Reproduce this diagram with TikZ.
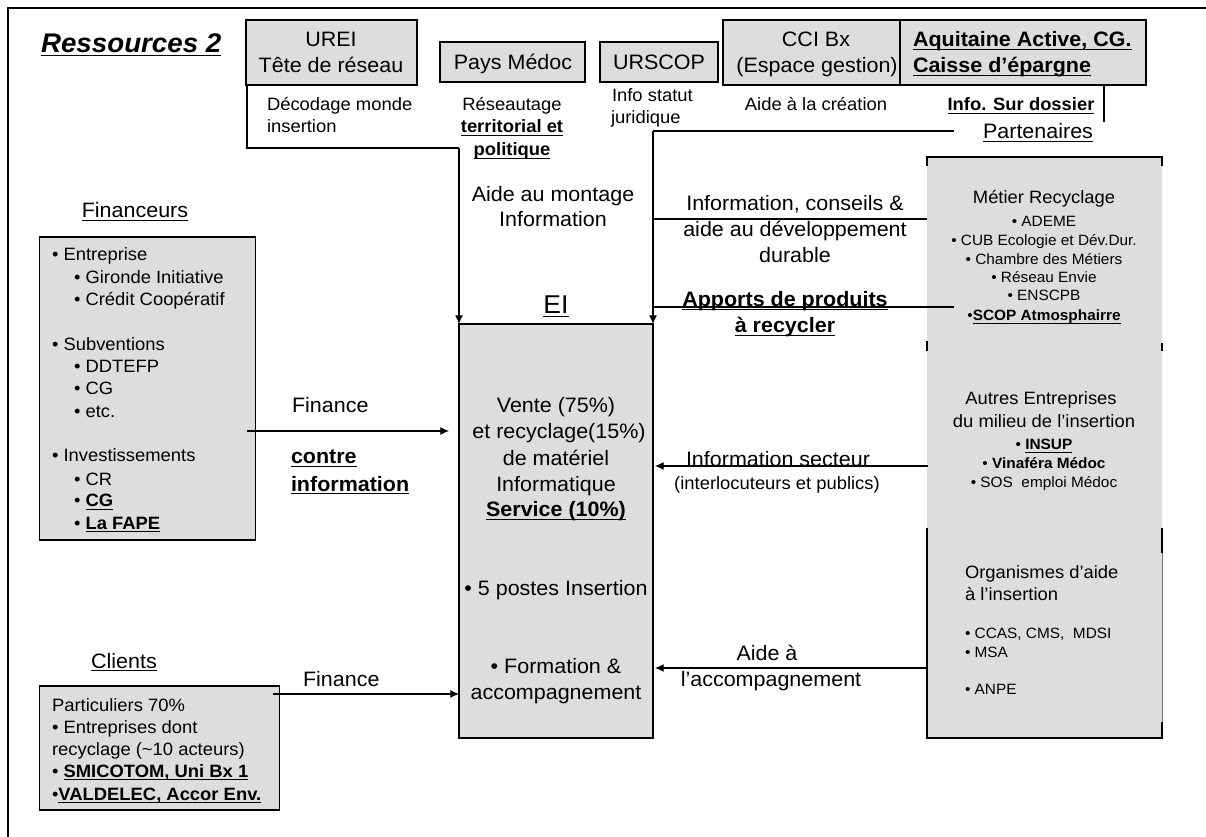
\documentclass[tikz,border=0pt]{standalone}
\usepackage{fontspec}
\usetikzlibrary{arrows.meta}
\setmainfont[FakeStretch=1.03]{Liberation Sans}
\newsavebox\ulbox
\newcommand\uline[1]{\sbox\ulbox{#1}\leavevmode\usebox\ulbox\hskip-\wd\ulbox\vrule width \wd\ulbox height -1.3pt depth 2.5pt\relax}
\newcommand\fa{\fontsize{15.65pt}{18pt}\selectfont}
\newcommand\fb{\fontsize{13.4pt}{16pt}\selectfont}
\newcommand\fc{\fontsize{11.2pt}{13pt}\selectfont}
\newcommand\ftitle{\fontsize{20.2pt}{24pt}\selectfont\bfseries\itshape}
\newcommand\fei{\fontsize{19.3pt}{22pt}\selectfont}
\newcommand\ub[1]{\textbf{\uline{#1}}}
\definecolor{boxgray}{HTML}{DDDDDD}
\tikzset{
  gbox/.style={draw=black,line width=1.1pt,fill=boxgray,inner sep=0pt,outer sep=0pt},
  gfill/.style={fill=boxgray,inner sep=0pt,outer sep=0pt},
  txt/.style={inner sep=0pt,outer sep=0pt,text=black},
  conn/.style={draw=black,line width=.8pt},
  arr/.style={conn,-{Latex[length=6.5pt,width=6pt]}},
  edge/.style={draw=black,line width=1.1pt},
  thinedge/.style={draw=black!55,line width=.5pt}
}
\newcommand\gnode[6]{%
  \pgfmathsetmacro\cxx{(#3+#5)/2}\pgfmathsetmacro\cyy{(#4+#6)/2}%
  \pgfmathsetmacro\ww{(#5-#3)*.75}\pgfmathsetmacro\hh{(#6-#4)*.75}%
  \node[#2,minimum width=\ww pt,minimum height=\hh pt] (#1) at (\cxx,\cyy) {};}
\newcommand\labc[5]{\node[txt,anchor=base,font=#4] (#1) at (#2,#3) {#5};}
\newcommand\labl[5]{\node[txt,anchor=base west,font=#4] (#1) at (#2,#3) {#5};}
\begin{document}
\begin{tikzpicture}[x=.75pt,y=-.75pt]
\useasboundingbox (0,0) rectangle (1206,837);
\fill[white] (0,0) rectangle (1206,837);
% frame
\draw[black,line width=1.5pt] (7.5,837) -- (7.5,8.5) -- (1206,8.5);
% boxes
\gnode{urei}{gbox}{246}{20}{417}{85}
\gnode{pays}{gbox}{440}{42}{585}{82}
\gnode{urscop}{gbox}{600}{42}{718}{82}
\gnode{cci}{gbox}{723}{20}{911}{85}
\gnode{aqui}{gbox}{900}{20}{1146}{85}
\gnode{fin}{gbox}{39.5}{237}{255.5}{540}
\gnode{cli}{gbox}{39.5}{686}{279.5}{810}
\gnode{ei}{gbox}{459}{324}{653}{738}
\gnode{right}{gfill}{927}{157}{1162}{738}
% partial edges of the right column
\draw[edge] (927,166) -- (927,157) -- (1162,157) -- (1162,166);
\draw[edge] (927,341) -- (927,351) (1162,343) -- (1162,351);
\draw[edge] (1162,528) -- (1162,553) (1162,722) -- (1162,738) -- (927,738) -- (927,528);
\draw[thinedge] (1162,553) -- (1162,722);
% free ends
\coordinate (ureiA) at (247,85);
\coordinate (ureiB) at (247,148);
\coordinate (ureiC) at (459,148);
\coordinate (aquiA) at (1104,85);
\coordinate (aquiB) at (1104,122);
\coordinate (partA) at (954,131);
\coordinate (partB) at (653,131);
\coordinate (infoA) at (927,219);
\coordinate (infoB) at (653,219);
\coordinate (appA) at (954,307);
\coordinate (appB) at (653,307);
\coordinate (secA) at (928,466);
\coordinate (aidA) at (927,668);
\coordinate (finA) at (247,431);
\coordinate (cliA) at (273,694);
% connectors
\draw[conn] (ureiA) -- (ureiB) -- (ureiC);
\draw[arr] (ureiC) -- (ei.north west);
\draw[conn] (aquiA) -- (aquiB);
\draw[conn] (partA) -- (partB);
\draw[arr] (partB) -- (ei.north east);
\draw[conn] (infoA) -- (infoB);
\draw[conn] (appA) -- (appB);
\draw[arr,shorten >=10*.75pt] (finA) -- (finA -| ei.west);
\draw[arr] (cliA) -- (cliA -| ei.west);
\draw[arr,shorten >=2*.75pt] (secA) -- (secA -| ei.east);
\draw[arr,shorten >=2*.75pt] (aidA) -- (aidA -| ei.east);
% title
\labl{title}{41}{53}{\ftitle}{\uline{Ressources 2}}
% top boxes
\labc{a1}{331}{47}{\fa}{UREI}
\labc{a2}{331}{73}{\fa}{Tête de réseau}
\labc{a3}{513}{70}{\fa}{Pays Médoc}
\labc{a4}{659}{70}{\fa}{URSCOP}
\labc{a5}{816}{47}{\fa}{CCI Bx}
\labc{a6}{817}{73}{\fa}{(Espace gestion)}
\labl{a7}{913}{47}{\fa}{\ub{Aquitaine Active, CG.}}
\labl{a8}{913}{73}{\fa}{\ub{Caisse d’épargne}}
% labels below the top boxes
\labl{b1}{267}{111}{\fb}{Décodage monde}
\labl{b2}{267}{133}{\fb}{insertion}
\labc{b3}{512}{111}{\fb}{Réseautage}
\labc{b4}{512}{133}{\fb}{\ub{territorial et}}
\labc{b5}{512}{156}{\fb}{\ub{politique}}
\labl{b6}{612}{102}{\fb}{Info statut}
\labl{b7}{611}{124}{\fb}{juridique}
\labc{b8}{816}{111}{\fb}{Aide à la création}
\labc{b9}{1021}{111}{\fb}{\ub{Info. Sur dossier}}
\labc{b10}{1038}{139}{\fa}{\uline{Partenaires}}
\labc{b11}{553}{202}{\fa}{Aide au montage}
\labc{b12}{553}{227}{\fa}{Information}
\labc{b13}{795}{211}{\fa}{Information, conseils \&}
\labc{b14}{795}{237}{\fa}{aide au développement}
\labc{b15}{795}{263}{\fa}{durable}
\labc{b16}{785}{307}{\fa}{\ub{Apports de produits}}
\labc{b17}{785}{333}{\fa}{\ub{à recycler}}
\labc{ei0}{556}{314}{\fei}{\uline{EI}}
% Financeurs
\labc{f0}{135}{218}{\fa}{\uline{Financeurs}}
\labl{f1}{52}{261}{\fb}{• Entreprise}
\labl{f2}{74}{284}{\fb}{• Gironde Initiative}
\labl{f3}{74}{306}{\fb}{• Crédit Coopératif}
\labl{f4}{52}{351}{\fb}{• Subventions}
\labl{f5}{74}{373}{\fb}{• DDTEFP}
\labl{f6}{74}{395}{\fb}{• CG}
\labl{f7}{74}{418}{\fb}{• etc.}
\labl{f8}{52}{462}{\fb}{• Investissements}
\labl{f9}{74}{485}{\fb}{• CR}
\labl{f10}{74}{507}{\fb}{• \ub{CG}}
\labl{f11}{74}{529}{\fb}{• \ub{La FAPE}}
\labl{g1}{292}{413}{\fa}{Finance}
\labl{g2}{291}{464}{\fa}{\ub{contre}}
\labl{g3}{291}{491}{\fa}{\ub{information}}
% Clients
\labc{c0}{124}{668}{\fa}{\uline{Clients}}
\labl{c1}{52}{711}{\fb}{Particuliers 70\%}
\labl{c2}{52}{733}{\fb}{• Entreprises dont}
\labl{c3}{52}{755}{\fb}{recyclage (\textasciitilde 10 acteurs)}
\labl{c4}{52}{777}{\fb}{• \ub{SMICOTOM, Uni Bx 1}}
\labl{c5}{52}{800}{\fb}{•\ub{VALDELEC, Accor Env.}}
\labl{c6}{303}{686}{\fa}{Finance}
% EI
\labc{e1}{556}{413}{\fa}{Vente (75\%)}
\labc{e2}{559}{439}{\fa}{et recyclage(15\%)}
\labc{e3}{556}{465}{\fa}{de matériel}
\labc{e4}{556}{491}{\fa}{Informatique}
\labc{e5}{556}{517}{\fa}{\ub{Service (10\%)}}
\labc{e6}{556}{595}{\fa}{• 5 postes Insertion}
\labc{e7}{556}{673}{\fa}{• Formation \&}
\labc{e8}{556}{699}{\fa}{accompagnement}
% right column
\labc{r1}{1044}{204}{\fb}{Métier Recyclage}
\labc{r2}{1044}{227}{\fc}{• ADEME}
\labc{r3}{1044}{246}{\fc}{• CUB Ecologie et Dév.Dur.}
\labc{r4}{1044}{265}{\fc}{• Chambre des Métiers}
\labc{r5}{1044}{283}{\fc}{• Réseau Envie}
\labc{r6}{1044}{301}{\fc}{• ENSCPB}
\labc{r7}{1044}{321}{\fc}{•\ub{SCOP Atmosphairre}}
\labc{r8}{1041}{405}{\fb}{Autres Entreprises}
\labc{r9}{1044}{428}{\fb}{du milieu de l’insertion}
\labc{r10}{1044}{450}{\fc}{• \ub{INSUP}}
\labc{r11}{1044}{469}{\fc}{• \textbf{Vinaféra Médoc}}
\labc{r12}{1044}{488}{\fc}{• SOS\ \ emploi Médoc}
\labl{r13}{965}{578}{\fb}{Organismes d’aide}
\labl{r14}{965}{600}{\fb}{à l’insertion}
\labl{r15}{965}{638}{\fc}{• CCAS, CMS,\ \ MDSI}
\labl{r16}{965}{657}{\fc}{• MSA}
\labl{r17}{965}{694}{\fc}{• ANPE}
% arrows' labels
\labc{s1}{778}{466}{\fa}{Information secteur}
\labc{s2}{777}{489}{\fb}{(interlocuteurs et publics)}
\labc{s3}{767}{660}{\fa}{Aide à}
\labc{s4}{771}{686}{\fa}{l’accompagnement}
\end{tikzpicture}
\end{document}
